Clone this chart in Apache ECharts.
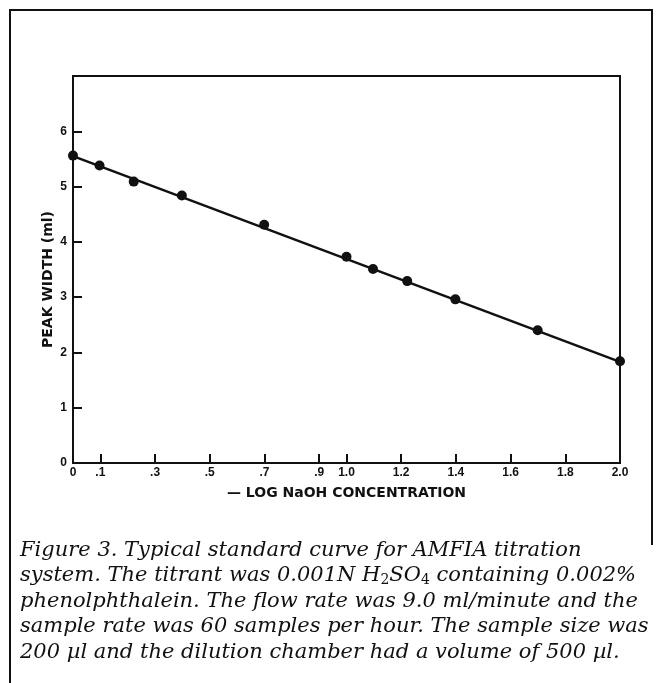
<!DOCTYPE html>
<html>
<head>
<meta charset="utf-8">
<script src="https://cdn.jsdelivr.net/npm/echarts@6/dist/echarts.min.js"></script>
<style>html,body{margin:0;padding:0;background:#fff}#c{width:661px;height:683px}</style>
</head>
<body>
<div id="c"></div>
<script>
// -log NaOH concentration (x) and peak width in ml (y)
var xValues = [0, 0.097, 0.222, 0.398, 0.699, 1.0, 1.097, 1.222, 1.398, 1.699, 2.0];
var yValues = [5.56, 5.38, 5.09, 4.84, 4.31, 3.73, 3.51, 3.29, 2.96, 2.40, 1.84];
// fitted standard curve endpoints
var fitX = [0, 2.0];
var fitY = [5.55, 1.83];
var xTicks = [0, 0.1, 0.3, 0.5, 0.7, 0.9, 1.0, 1.2, 1.4, 1.6, 1.8, 2.0];
var yTicks = [0, 1, 2, 3, 4, 5, 6];
var xTitle = '\u2014 LOG NaOH CONCENTRATION';
var yTitle = 'PEAK WIDTH (ml)';
var captionLines = [
  'Figure 3. Typical standard curve for AMFIA titration',
  'system. The titrant was 0.001{i|N} H{sub|2}SO{sub|4} containing 0.002%',
  'phenolphthalein. The flow rate was 9.0 ml/minute and the',
  'sample rate was 60 samples per hour. The sample size was',
  '200 \u00b5l and the dilution chamber had a volume of 500 \u00b5l.'
];

var chart = echarts.init(document.getElementById('c'), null, {renderer: 'canvas'});
var sans = 'Liberation Sans, Arial, sans-serif';
var titleSans = 'DejaVu Sans, sans-serif';
var serif = 'DejaVu Serif, serif';

var pts = xValues.map(function (x, i) { return [x, yValues[i]]; });
var fit = fitX.map(function (x, i) { return [x, fitY[i]]; });

function fmtX(v) {
  if (v === 0) return '0';
  if (v < 1) return String(Math.round(v * 10) / 10).replace(/^0/, '');
  return v.toFixed(1);
}

var graphics = [{
  type: 'polyline',
  shape: {points: [[10, 683], [10, 10], [652, 10], [652, 545]]},
  style: {stroke: '#111', lineWidth: 2, fill: null}
}];
captionLines.forEach(function (t, i) {
  graphics.push({
    type: 'text',
    left: 20,
    top: 540 + i * 25.5,
    style: {
      text: t,
      font: 'italic 21px ' + serif,
      fill: '#111',
      rich: {
        i: {font: 'italic 21px ' + serif, fill: '#111'},
        sub: {font: '14px ' + serif, fill: '#111', padding: [9, 0, 0, 0]}
      }
    }
  });
});

chart.setOption({
  animation: false,
  backgroundColor: '#fff',
  grid: {left: 73, top: 76, right: 41, bottom: 220, show: true, borderColor: '#111', borderWidth: 2, backgroundColor: 'transparent'},
  xAxis: {
    type: 'value', min: 0, max: 2,
    name: xTitle, nameLocation: 'middle', nameGap: 23, nameMoveOverlap: false,
    nameTextStyle: {fontFamily: titleSans, fontWeight: 'bold', fontSize: 14, color: '#111'},
    axisLine: {show: true, lineStyle: {color: '#111', width: 2}},
    axisTick: {show: true, inside: true, length: 9, lineStyle: {color: '#111', width: 2}, customValues: xTicks},
    axisLabel: {customValues: xTicks, formatter: fmtX, color: '#111', fontFamily: sans, fontWeight: 'bold', fontSize: 12, margin: 4},
    splitLine: {show: false}
  },
  yAxis: {
    type: 'value', min: 0, max: 7, interval: 1,
    name: yTitle, nameLocation: 'middle', nameGap: 18, nameRotate: 90, nameMoveOverlap: false,
    nameTextStyle: {fontFamily: titleSans, fontWeight: 'bold', fontSize: 14, color: '#111', padding: [0, 20, 0, 0]},
    axisLine: {show: true, lineStyle: {color: '#111', width: 2}},
    axisTick: {show: true, inside: true, length: 9, lineStyle: {color: '#111', width: 2}, customValues: yTicks},
    axisLabel: {customValues: yTicks, color: '#111', fontFamily: sans, fontWeight: 'bold', fontSize: 12, margin: 6},
    splitLine: {show: false}
  },
  series: [{
    type: 'line', data: fit, showSymbol: false, symbol: 'none',
    lineStyle: {color: '#111', width: 2.5}, z: 2
  }, {
    type: 'scatter', data: pts, symbol: 'circle', symbolSize: 10,
    itemStyle: {color: '#111', opacity: 1}, z: 3
  }],
  graphic: graphics
});
</script>
</body>
</html>
